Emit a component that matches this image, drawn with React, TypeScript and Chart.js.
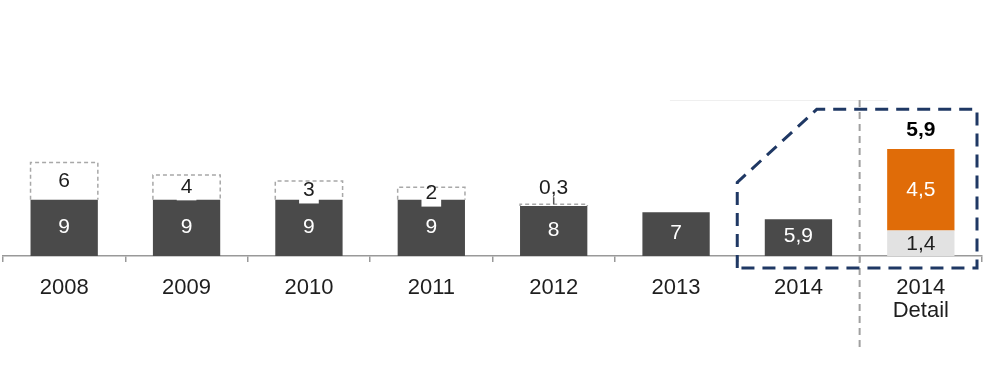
import React, { useEffect, useRef } from 'react';
import { Chart, registerables } from 'chart.js';

Chart.register(...registerables);

const categories: (string | string[])[] = ['2008', '2009', '2010', '2011', '2012', '2013', '2014', ['2014', 'Detail']];
const baseValues: (number | null)[] = [9, 9, 9, 9, 8, 7, 5.9, null];
const dashedValues: (number | null)[] = [6, 4, 3, 2, 0.3, null, null, null];
const detailLower: (number | null)[] = [null, null, null, null, null, null, null, 1.4];
const detailUpper: (number | null)[] = [null, null, null, null, null, null, null, 4.5];
const detailTotal = 5.9;
const mainMax = 25;
const detailMax = 8.6;

const FONT = '"Liberation Sans", Arial, sans-serif';
const NUM_FONT = `21px ${FONT}`;
const fmt = (v: number) => String(v).replace('.', ',');

const overlayPlugin = {
  id: 'overlay',
  afterDatasetsDraw(chart: any) {
    const ctx: CanvasRenderingContext2D = chart.ctx;
    const xs = chart.scales.x;
    const ys = chart.scales.y;
    const ca = chart.chartArea;
    ctx.save();
    ctx.textAlign = 'center';
    ctx.textBaseline = 'middle';

    // faint top line
    const xDiv = (xs.getPixelForValue(6) + xs.getPixelForValue(7)) / 2;
    ctx.strokeStyle = '#efefef';
    ctx.lineWidth = 1;
    ctx.beginPath();
    ctx.moveTo(xs.getPixelForValue(4.95), ca.top + 0.5);
    ctx.lineTo(xDiv + 28, ca.top + 0.5);
    ctx.stroke();

    // dark bar labels
    const m0 = chart.getDatasetMeta(0);
    m0.data.forEach((bar: any, i: number) => {
      const v = baseValues[i];
      if (v == null) return;
      const p = bar.getProps(['x', 'y', 'base'], true);
      ctx.fillStyle = '#ffffff';
      ctx.font = NUM_FONT;
      ctx.fillText(fmt(v), p.x, (p.y + p.base) / 2 - 1);
    });

    // dashed segments
    const m1 = chart.getDatasetMeta(1);
    m1.data.forEach((bar: any, i: number) => {
      const v = dashedValues[i];
      if (v == null) return;
      const p = bar.getProps(['x', 'y', 'base', 'width'], true);
      const l = p.x - p.width / 2;
      const r = p.x + p.width / 2;
      const h = p.base - p.y;
      ctx.font = NUM_FONT;
      const label = fmt(v);
      const tw = ctx.measureText(label).width;
      let ty: number;
      if (h >= 10) {
        ty = (p.y + p.base) / 2;
        ctx.fillStyle = '#ffffff';
        ctx.fillRect(p.x - tw / 2 - 4, ty - 10, tw + 8, 23);
      } else {
        ty = p.y - 16;
      }
      ctx.setLineDash([4, 3]);
      ctx.strokeStyle = '#a8a8a8';
      ctx.lineWidth = 1.5;
      ctx.beginPath();
      ctx.moveTo(l, p.base);
      ctx.lineTo(l, p.y);
      ctx.lineTo(r, p.y);
      ctx.lineTo(r, p.base);
      ctx.stroke();
      ctx.setLineDash([]);
      if (h < 10) {
        ctx.strokeStyle = '#555';
        ctx.lineWidth = 1.5;
        ctx.beginPath();
        ctx.moveTo(p.x, ty + 9);
        ctx.lineTo(p.x, p.y);
        ctx.stroke();
      }
      ctx.fillStyle = '#1e1e1e';
      ctx.fillText(label, p.x, ty);
    });

    // detail labels
    const m2 = chart.getDatasetMeta(2);
    m2.data.forEach((bar: any, i: number) => {
      const v = detailLower[i];
      if (v == null) return;
      const p = bar.getProps(['x', 'y', 'base'], true);
      ctx.fillStyle = '#1e1e1e';
      ctx.font = NUM_FONT;
      ctx.fillText(fmt(v), p.x, (p.y + p.base) / 2 + 1);
    });
    const m3 = chart.getDatasetMeta(3);
    m3.data.forEach((bar: any, i: number) => {
      const v = detailUpper[i];
      if (v == null) return;
      const p = bar.getProps(['x', 'y', 'base'], true);
      ctx.fillStyle = '#ffffff';
      ctx.font = NUM_FONT;
      ctx.fillText(fmt(v), p.x, (p.y + p.base) / 2);
      ctx.fillStyle = '#000000';
      ctx.font = `bold 21px ${FONT}`;
      ctx.fillText(fmt(detailTotal), p.x, p.y - 19);
    });

    // vertical divider
    ctx.strokeStyle = '#a0a0a0';
    ctx.lineWidth = 2;
    ctx.setLineDash([7, 5]);
    ctx.beginPath();
    ctx.moveTo(xDiv, ca.top);
    ctx.lineTo(xDiv, chart.height - 39);
    ctx.stroke();

    // navy dashed callout box
    const left = (xs.getPixelForValue(5) + xs.getPixelForValue(6)) / 2;
    const right = ca.right - 5;
    const top = ys.getPixelForValue(23.5);
    const bottom = ca.bottom + 12;
    const shoulder = ys.getPixelForValue(11.8);
    const cornerX = xs.getPixelForValue(6.15);
    ctx.strokeStyle = '#1f3864';
    ctx.lineWidth = 3;
    ctx.setLineDash([13, 8]);
    ctx.beginPath();
    ctx.moveTo(left, bottom);
    ctx.lineTo(left, shoulder);
    ctx.lineTo(cornerX, top);
    ctx.lineTo(right, top);
    ctx.lineTo(right, bottom);
    ctx.closePath();
    ctx.stroke();
    ctx.setLineDash([]);
    ctx.restore();
  },
};

export default function App() {
  const ref = useRef<HTMLCanvasElement>(null);
  useEffect(() => {
    const chart = new Chart(ref.current as HTMLCanvasElement, {
      type: 'bar',
      data: {
        labels: categories as any,
        datasets: [
          { label: 'base', data: baseValues as any, backgroundColor: '#4a4a4a', yAxisID: 'y', borderWidth: 0 },
          { label: 'dashed', data: dashedValues as any, backgroundColor: 'rgba(255,255,255,0)', yAxisID: 'y', borderWidth: 0 },
          { label: 'lower', data: detailLower as any, backgroundColor: '#e2e2e2', yAxisID: 'y2', borderWidth: 0 },
          { label: 'upper', data: detailUpper as any, backgroundColor: '#e06c08', yAxisID: 'y2', borderWidth: 0 },
        ],
      },
      options: {
        responsive: false,
        animation: false,
        layout: { padding: { top: 100, left: 3, right: 18, bottom: 0 } },
        plugins: { legend: { display: false }, tooltip: { enabled: false } },
        datasets: { bar: { categoryPercentage: 1, barPercentage: 0.55 } },
        scales: {
          x: {
            stacked: true,
            grid: {
              display: true,
              drawOnChartArea: false,
              drawTicks: true,
              tickLength: 6,
              lineWidth: 1.5,
              color: (c: any) => (c.index === 8 ? 'rgba(0,0,0,0)' : '#999999'),
            },
            border: { display: true, color: '#999999', width: 1.5 },
            ticks: {
              autoSkip: false,
              maxRotation: 0,
              padding: 14,
              color: '#1e1e1e',
              font: { family: '"Liberation Sans", Arial, sans-serif', size: 22, lineHeight: 1.05 },
            },
            afterFit: (s: any) => {
              s.height = 133;
            },
          },
          y: { stacked: true, display: false, min: 0, max: mainMax },
          y2: { stacked: true, display: false, min: 0, max: detailMax, position: 'right' },
        },
      } as any,
      plugins: [overlayPlugin],
    });
    return () => chart.destroy();
  }, []);
  return (
    <div style={{ position: 'absolute', left: 0, top: 0, width: 1000, height: 389, background: '#ffffff' }}>
      <canvas ref={ref} width={1000} height={389} style={{ display: 'block' }} />
    </div>
  );
}
